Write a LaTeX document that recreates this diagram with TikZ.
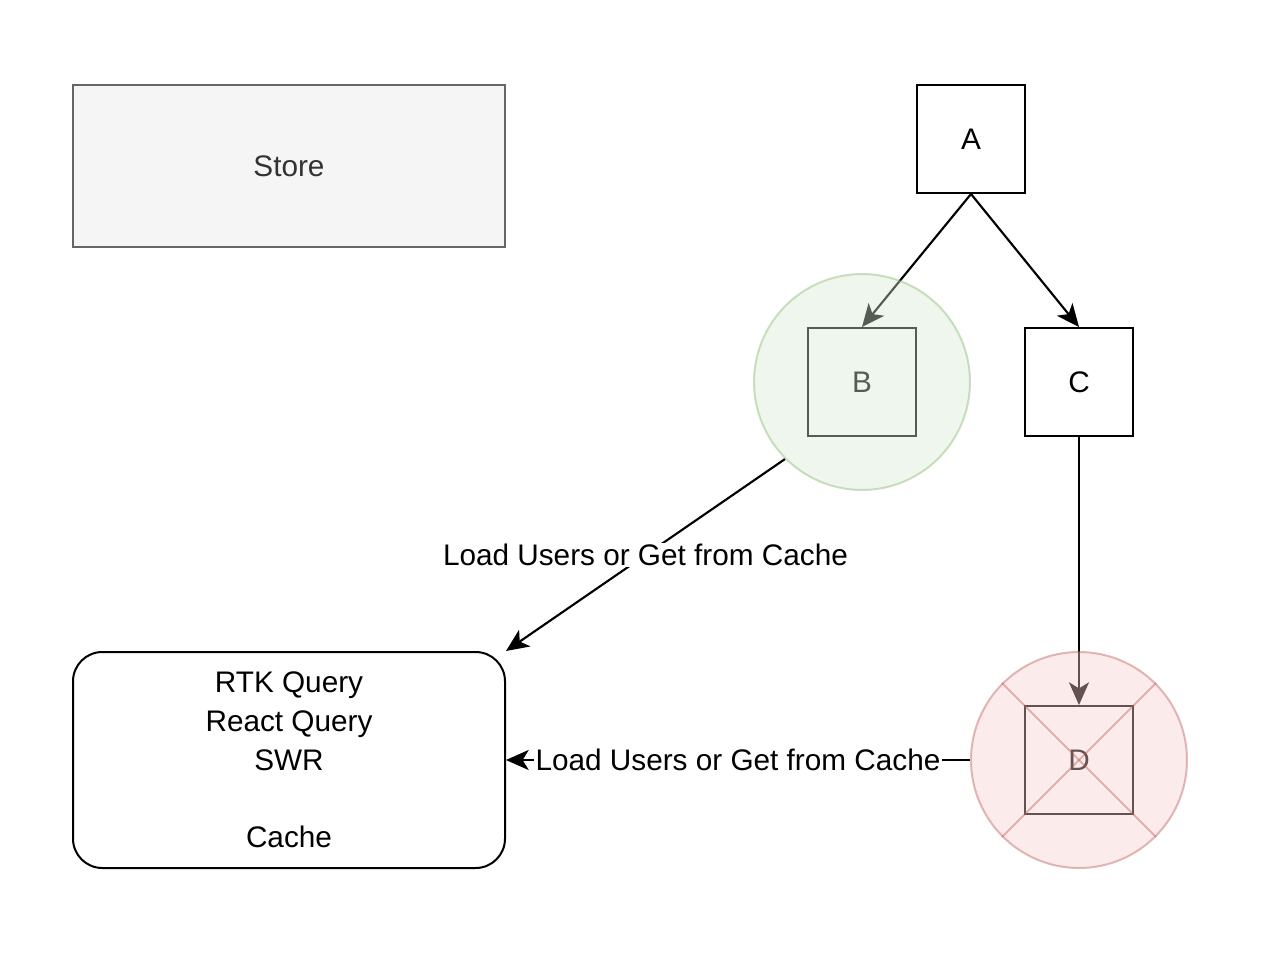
\documentclass[tikz,border=0pt]{standalone}
\usepackage{fontspec}
\setmainfont{Liberation Sans}
\usetikzlibrary{arrows.meta}
\definecolor{storefill}{HTML}{F5F5F5}
\definecolor{storeline}{HTML}{666666}
\definecolor{storetext}{HTML}{333333}
\definecolor{greenfill}{HTML}{D5E8D4}
\definecolor{greenline}{HTML}{82B366}
\definecolor{redfill}{HTML}{F8CECC}
\definecolor{redline}{HTML}{B85450}
\begin{document}
\begin{tikzpicture}[x=0.75pt,y=-0.75pt,
	>={Stealth[length=17pt,width=15pt,inset=4.5pt]},
	every node/.style={font=\fontsize{22.3}{29}\selectfont},
	box/.style={draw,line width=1.5pt,minimum size=81pt,inner sep=0pt},
	wide/.style={draw,line width=1.5pt,minimum width=324pt,inner sep=0pt},
	ring/.style={circle,line width=1.5pt,minimum size=162pt,inner sep=0pt,fill opacity=0.4,draw opacity=0.4},
	link/.style={->,line width=1.6pt},
	tag/.style={fill=white,inner sep=1pt}]
	\useasboundingbox (0,0) rectangle (1286,976);
	% hop
	\node[wide,minimum height=121.5pt,fill=storefill,draw=storeline,text=storetext] (store) at (289,166) {Store};
	\node[wide,minimum height=162pt,rounded corners=22pt,align=center] (cache) at (289,760) {RTK Query\\React Query\\SWR\\\mbox{}\\Cache};
	% cac o vuong
	\node[box] (a) at (971,139) {A};
	\node[box] (nb) at (862,382) {B};
	\node[box] (c) at (1079,382) {C};
	\node[box] (d) at (1079,760) {D};
	\draw[link] (a.south) -- (nb.north);
	\draw[link] (a.south) -- (c.north);
	\draw[link] (c.south) -- (d.north);
	% hinh tron phu len
	\node[ring,fill=greenfill,draw=greenline] (cb) at (nb) {};
	\node[ring,fill=redfill,draw=redline] (cd) at (d) {};
	\begin{scope}[draw opacity=0.4,line width=1.5pt,draw=redline]
		\draw (cd.45) -- (cd.225);
		\draw (cd.135) -- (cd.315);
	\end{scope}
	\draw[link] (cb.south west) -- (cache.north east) node[tag,midway] {Load Users or Get from Cache};
	\draw[link] (cd.west) -- (cache.east) node[tag,midway] {Load Users or Get from Cache};
\end{tikzpicture}
\end{document}
